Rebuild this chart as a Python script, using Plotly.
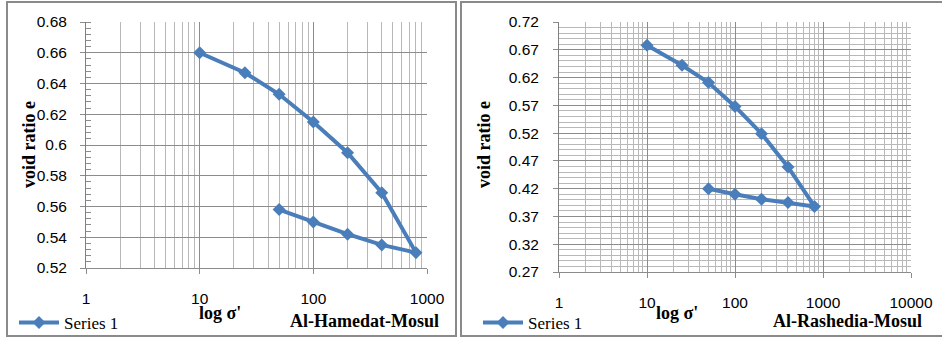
import plotly.graph_objects as go

# ---- data ----
pressure = [10, 25, 50, 100, 200, 400, 800, 400, 200, 100, 50]
void_hamedat = [0.660, 0.647, 0.633, 0.615, 0.595, 0.569, 0.530, 0.535, 0.542, 0.550, 0.558]
void_rashedia = [0.678, 0.642, 0.611, 0.568, 0.519, 0.459, 0.388, 0.395, 0.401, 0.410, 0.420]
series_name = "Series 1"
x_title = "log σ'"
y_title = "void ratio e"
site_left = "Al-Hamedat-Mosul"
site_right = "Al-Rashedia-Mosul"

W, H = 942, 338
def px(x):
    return x / W
def py(y):
    return 1 - y / H

BLUE = "#4a7ebb"
MAJ = "#8c8c8c"
MIN = "#b8b8b8"
TICKFONT = dict(family="Liberation Sans, Arial", size=15.5, color="#000")
SERIF_B = dict(family="Liberation Serif, Times New Roman", size=18, color="#000")

fig = go.Figure()
fig.add_trace(go.Scatter(x=pressure, y=void_hamedat, mode="lines+markers", name=series_name,
                         line=dict(color=BLUE, width=4),
                         marker=dict(symbol="diamond", size=10, color=BLUE),
                         xaxis="x", yaxis="y", legend="legend"))
fig.add_trace(go.Scatter(x=pressure, y=void_rashedia, mode="lines+markers", name=series_name,
                         line=dict(color=BLUE, width=4),
                         marker=dict(symbol="diamond", size=10, color=BLUE),
                         xaxis="x2", yaxis="y2", legend="legend2"))

xcommon = dict(type="log", dtick=1, showgrid=True, gridcolor=MAJ, gridwidth=1,
               ticks="outside", ticklen=5, tickcolor=MAJ, showline=True, linecolor=MAJ,
               tickfont=TICKFONT, ticklabelstandoff=11, zeroline=False,
               minor=dict(dtick="D1", showgrid=True, gridcolor=MIN, gridwidth=1, ticks=""))

fig.update_layout(
    width=W, height=H,
    margin=dict(l=0, r=0, t=0, b=0, pad=0, autoexpand=False),
    paper_bgcolor="white", plot_bgcolor="white",
    xaxis=dict(xcommon, domain=[px(86), px(427)], anchor="y", range=[0, 3],
               tickvals=[1, 10, 100, 1000], ticktext=["1", "10", "100", "1000"]),
    yaxis=dict(domain=[py(268), py(22)], anchor="x", range=[0.52, 0.68], dtick=0.02,
               tick0=0.52, showgrid=True, gridcolor=MAJ, gridwidth=1,
               ticks="outside", ticklen=5, tickcolor=MAJ, showline=True, linecolor="#7f7f7f",
               tickfont=TICKFONT, ticklabelstandoff=10, zeroline=False,
               minor=dict(dtick=0.004, ticks="inside", ticklen=5, tickcolor=MAJ, showgrid=False)),
    xaxis2=dict(xcommon, domain=[px(559), px(911)], anchor="y2", range=[0, 4],
                tickvals=[1, 10, 100, 1000, 10000], ticktext=["1", "10", "100", "1000", "10000"]),
    yaxis2=dict(domain=[py(272), py(22)], anchor="x2", range=[0.27, 0.72], dtick=0.05,
                tick0=0.27, showgrid=True, gridcolor=MAJ, gridwidth=1,
                ticks="outside", ticklen=5, tickcolor=MAJ, showline=True, linecolor="#7f7f7f",
                tickfont=TICKFONT, ticklabelstandoff=11, zeroline=False,
                minor=dict(dtick=0.01, showgrid=True, gridcolor=MIN, gridwidth=1, ticks="")),
    legend=dict(x=px(14), y=py(323), xanchor="left", yanchor="middle", bgcolor="rgba(0,0,0,0)",
                font=dict(family="Liberation Serif, Times New Roman", size=17, color="#000"),
                itemwidth=40),
    legend2=dict(x=px(478), y=py(323), xanchor="left", yanchor="middle", bgcolor="rgba(0,0,0,0)",
                 font=dict(family="Liberation Serif, Times New Roman", size=17, color="#000"),
                 itemwidth=40),
    showlegend=True,
)

# panel borders
fig.add_shape(type="rect", xref="paper", yref="paper", x0=px(7), x1=px(456), y0=py(336), y1=py(2),
              line=dict(color="#8a8a8a", width=2), layer="below")
fig.add_shape(type="rect", xref="paper", yref="paper", x0=px(461), x1=px(950), y0=py(336), y1=py(2),
              line=dict(color="#8a8a8a", width=2), layer="below")

ann = [
    dict(x=px(29), y=py(145), text=y_title, textangle=-90),
    dict(x=px(220), y=py(313), text=x_title),
    dict(x=px(364), y=py(321), text=site_left),
    dict(x=px(484), y=py(145), text=y_title, textangle=-90),
    dict(x=px(677), y=py(313), text=x_title),
    dict(x=px(847), y=py(321), text=site_right),
]
for a in ann:
    fig.add_annotation(xref="paper", yref="paper", showarrow=False, xanchor="center", yanchor="middle",
                       font=SERIF_B, text="<b>" + a["text"] + "</b>", x=a["x"], y=a["y"],
                       textangle=a.get("textangle", 0))

fig.write_html("out.html", config={"displayModeBar": False},
               post_script="document.body.style.margin='0';document.body.style.overflow='hidden';")
